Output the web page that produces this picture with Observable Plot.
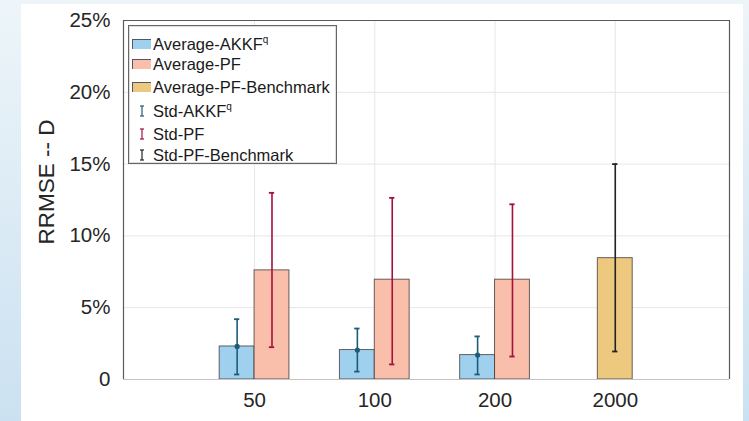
<!DOCTYPE html>
<html>
<head>
<meta charset="utf-8">
<script src="https://cdn.jsdelivr.net/npm/d3@7"></script>
<script src="https://cdn.jsdelivr.net/npm/@observablehq/plot@0.6"></script>
<style>
  html, body { margin: 0; padding: 0; }
  body {
    width: 749px; height: 421px; overflow: hidden; position: relative;
    background: linear-gradient(to bottom, #edf5f9 0%, #dcebf5 50%, #cbe1f1 100%);
    font-family: "Liberation Sans", Arial, sans-serif;
  }
  #panel { position: absolute; left: 21px; top: 4px; width: 722px; height: 417px; background: #fff; }
  #chart { position: absolute; left: 0; top: 0; }
  #ylabel {
    position: absolute; left: 47px; top: 182px;
    transform: translate(-50%, -50%) rotate(-90deg);
    font-size: 22.5px; color: #262626; white-space: nowrap;
  }
  #legend {
    position: absolute; left: 128px; top: 25px; width: 207px; height: 137px;
    border: 1px solid #666; background: #fff; box-shadow: inset 0 0 0 1px #ddd;
    font-size: 16.5px; color: #1a1a1a;
  }
  .row { position: absolute; left: 3px; height: 20px; display: flex; align-items: center; white-space: nowrap; }
  .sw { width: 19px; height: 10px; margin-right: 2px; box-sizing: border-box; border-top: 1px solid #556; border-left: 1px solid #556; }
  .eb { width: 19px; height: 12px; margin-right: 2px; display: flex; justify-content: center; }
  sup { font-size: 10px; vertical-align: 7px; line-height: 0; }
</style>
</head>
<body>
<div id="panel"></div>
<div id="chart"></div>
<div id="ylabel">RRMSE -- D</div>
<div id="legend"></div>
<script>
// ---- data (values in %) ----
const categories = ["50", "100", "200", "2000"];
const akkfMean  = [2.3, 2.05, 1.7, null];
const akkfLow   = [0.35, 0.55, 0.35, null];
const akkfHigh  = [4.2, 3.55, 3.0, null];
const pfMean    = [7.6, 6.95, 6.95, null];
const pfLow     = [2.25, 1.05, 1.6, null];
const pfHigh    = [13.0, 12.65, 12.2, null];
const benchMean = [null, null, null, 8.45];
const benchLow  = [null, null, null, 1.95];
const benchHigh = [null, null, null, 15.0];
const yTicks = [0, 5, 10, 15, 20, 25];

const seriesNames = ["Average-AKKF", "Average-PF", "Average-PF-Benchmark"];
const stdNames = ["Std-AKKF", "Std-PF", "Std-PF-Benchmark"];
const fills = ["#9fd1ef", "#f9bfab", "#edc87f"];
const errColors = ["#1d5c78", "#a3123a", "#222222"];

// ---- build table ----
const w = 0.29;
const rows = [];
categories.forEach((c, i) => {
  const g = i + 1;
  if (akkfMean[i] != null) rows.push({s: 0, x1: g - w, x2: g, xc: g - w / 2, m: akkfMean[i], lo: akkfLow[i], hi: akkfHigh[i]});
  if (pfMean[i] != null) rows.push({s: 1, x1: g, x2: g + w, xc: g + w / 2, m: pfMean[i], lo: pfLow[i], hi: pfHigh[i]});
  if (benchMean[i] != null) rows.push({s: 2, x1: g - w / 2, x2: g + w / 2, xc: g, m: benchMean[i], lo: benchLow[i], hi: benchHigh[i]});
});
const cap = 0.022;
const xDomain = [-0.09, 4.95];

const chart = Plot.plot({
  width: 749, height: 421,
  marginLeft: 123, marginRight: 20, marginTop: 20, marginBottom: 42,
  style: {background: "transparent", fontFamily: "Liberation Sans, Arial, sans-serif", fontSize: "20.5px", color: "#262626"},
  x: {type: "linear", domain: xDomain, axis: null},
  y: {domain: [0, 25], axis: null},
  marks: [
    Plot.gridY(yTicks, {stroke: "#e6e6e6", strokeOpacity: 1}),
    Plot.gridX([1, 2, 3, 4], {stroke: "#e6e6e6", strokeOpacity: 1}),
    Plot.rectY(rows, {x1: "x1", x2: "x2", y1: 0, y2: "m", fill: d => fills[d.s], stroke: "#3a3030", strokeOpacity: 0.75, strokeWidth: 1}),
    Plot.ruleX(rows, {x: "xc", y1: "lo", y2: "hi", stroke: d => errColors[d.s], strokeWidth: 1.6}),
    Plot.ruleY(rows, {y: "hi", x1: d => d.xc - cap, x2: d => d.xc + cap, stroke: d => errColors[d.s], strokeWidth: 1.8}),
    Plot.ruleY(rows, {y: "lo", x1: d => d.xc - cap, x2: d => d.xc + cap, stroke: d => errColors[d.s], strokeWidth: 1.8}),
    Plot.dot(rows.filter(d => d.s === 0), {x: "xc", y: "m", r: 2.6, fill: errColors[0], stroke: "none"}),
    // frame
    Plot.ruleY([0], {stroke: "#c4c4c4", strokeWidth: 1.2}),
    Plot.ruleY([25], {stroke: "#5a5a5a", strokeWidth: 1.2}),
    Plot.ruleX([xDomain[0]], {stroke: "#5a5a5a", strokeWidth: 1.2}),
    Plot.ruleX([xDomain[1]], {stroke: "#5a5a5a", strokeWidth: 1.2}),
    // axes
    Plot.axisY(yTicks, {anchor: "left", tickSize: 0, tickPadding: 13, tickFormat: d => d === 0 ? "0" : d + "%", fontSize: 20.5, fill: "#262626"}),
    Plot.axisX([1, 2, 3, 4], {anchor: "bottom", tickSize: 0, tickPadding: 13, tickFormat: d => categories[d - 1], fontSize: 20.5, fill: "#262626"})
  ]
});
document.getElementById("chart").appendChild(chart);

// ---- legend ----
const legend = document.getElementById("legend");
const rowTops = [8, 28, 51, 75, 98, 119];
seriesNames.forEach((n, i) => {
  const r = document.createElement("div");
  r.className = "row"; r.style.top = rowTops[i] + "px";
  const sw = document.createElement("div"); sw.className = "sw"; sw.style.background = fills[i];
  const t = document.createElement("span");
  t.innerHTML = i === 0 ? n + "<sup>q</sup>" : n;
  r.appendChild(sw); r.appendChild(t); legend.appendChild(r);
});
stdNames.forEach((n, i) => {
  const r = document.createElement("div");
  r.className = "row"; r.style.top = rowTops[i + 3] + "px";
  const eb = document.createElement("div"); eb.className = "eb";
  const c = errColors[i];
  eb.innerHTML = `<svg width="8" height="12"><line x1="4" y1="1" x2="4" y2="11" stroke="${c}" stroke-width="1.2"/><line x1="2" y1="1" x2="6" y2="1" stroke="${c}" stroke-width="1.2"/><line x1="2" y1="11" x2="6" y2="11" stroke="${c}" stroke-width="1.2"/></svg>`;
  const t = document.createElement("span");
  t.innerHTML = i === 0 ? n + "<sup>q</sup>" : n;
  r.appendChild(eb); r.appendChild(t); legend.appendChild(r);
});
</script>
</body>
</html>
